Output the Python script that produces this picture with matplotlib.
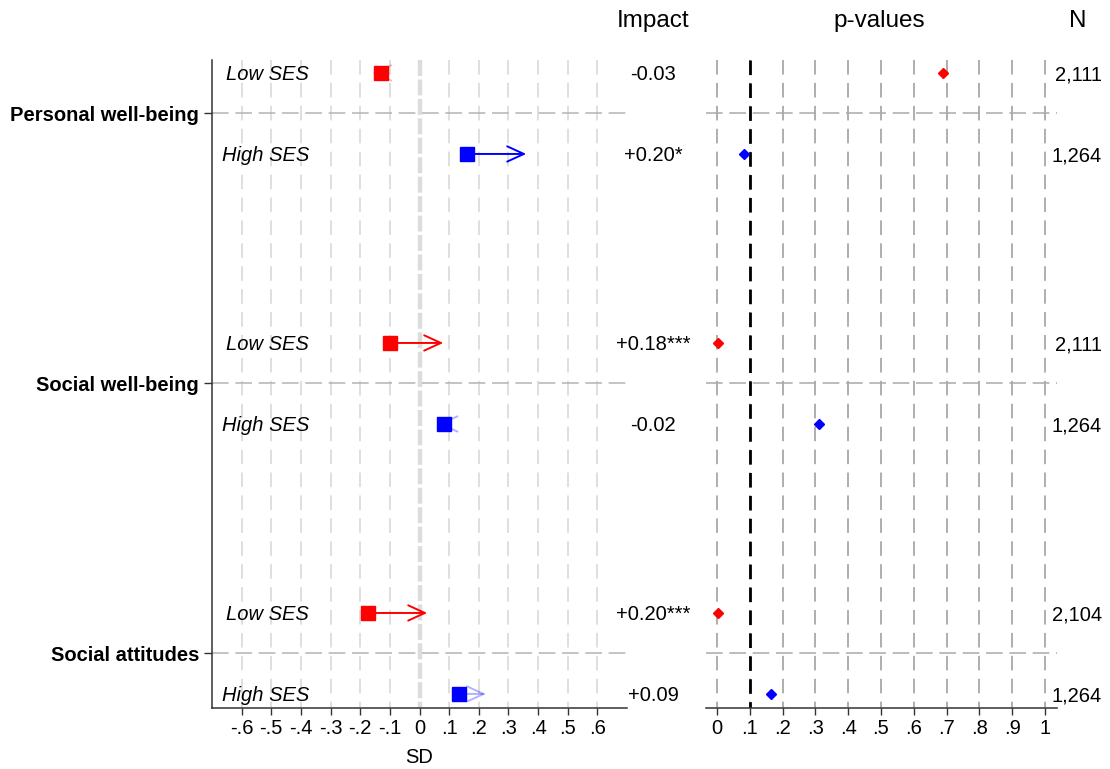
import matplotlib
matplotlib.use("Agg")
import matplotlib.pyplot as plt
import matplotlib.transforms as mtransforms
import numpy as np

plt.rcParams['font.family'] = ['Liberation Sans', 'DejaVu Sans']
plt.rcParams['lines.scale_dashes'] = False

# ---------------- data ----------------
groups = ["Personal well-being", "Social well-being", "Social attitudes"]
ses_labels = ["Low SES", "High SES"]
ses_colors = ["#ff0000", "#0000ff"]
baseline = [-0.13, 0.16, -0.10, 0.084, -0.174, 0.134]
impact = [-0.03, 0.20, 0.18, -0.02, 0.20, 0.09]
impact_labels = ["-0.03", "+0.20*", "+0.18***", "-0.02", "+0.20***", "+0.09"]
pvalues = [0.69, 0.082, 0.003, 0.31, 0.002, 0.165]
nobs = ["2,111", "1,264", "2,111", "1,264", "2,104", "1,264"]
sd_ticks = [-0.6, -0.5, -0.4, -0.3, -0.2, -0.1, 0, 0.1, 0.2, 0.3, 0.4, 0.5, 0.6]
sd_ticklabels = ["-.6", "-.5", "-.4", "-.3", "-.2", "-.1", "0", ".1", ".2", ".3", ".4", ".5", ".6"]
p_ticks = [0, 0.1, 0.2, 0.3, 0.4, 0.5, 0.6, 0.7, 0.8, 0.9, 1]
p_ticklabels = ["0", ".1", ".2", ".3", ".4", ".5", ".6", ".7", ".8", ".9", "1"]
p_threshold = 0.1

# ---------------- layout ----------------
W, H = 1110, 769
fig = plt.figure(figsize=(W / 100, H / 100), dpi=100)

def fx(px):
    return px / W

def fy(py):
    return 1 - py / H

ax_bottom = fy(708)
ax_h = fy(60) - fy(708)
ax = fig.add_axes([fx(212), ax_bottom, fx(627) - fx(212), ax_h])
axp = fig.add_axes([fx(706), ax_bottom, fx(1057) - fx(706), ax_h])
ax.patch.set_alpha(0)
axp.patch.set_alpha(0)

ylo, yhi = 23.52, -0.48
FS = 14.5
# baseline offset so that text is visually centred on the row (data units)
BOFF = 0.27

rows_y = []
seps = []
for g in range(len(groups)):
    rows_y += [10 * g, 10 * g + 3]
    seps.append(10 * g + 1.5)

on_v = (0, (10.5, 6.0))
on_h = (0, (12.0, 4.8))

# ---------- left panel ----------
ax.set_xlim(-0.7, 0.7)
ax.set_ylim(ylo, yhi)
for t in sd_ticks:
    if t == 0:
        ax.plot([t, t], [yhi, ylo], color="#dcdcdc", lw=3.2, linestyle=(0, (11.5, 2.5)), zorder=1)
    else:
        ax.plot([t, t], [yhi, ylo], color="#d6d6d6", lw=1.1, linestyle=on_v, zorder=1)
for s in seps:
    ax.plot([-0.7, 0.7], [s, s], color="#b4b4b4", lw=1.1, linestyle=on_h, zorder=1)

for i, y in enumerate(rows_y):
    c = ses_colors[i % 2]
    x0 = baseline[i]
    x1 = baseline[i] + impact[i]
    alpha = 1.0 if pvalues[i] < p_threshold else 0.3
    ax.annotate("", xy=(x1, y), xytext=(x0, y),
                arrowprops=dict(arrowstyle="->,head_length=1.2,head_width=0.55",
                                color=c, lw=1.4, alpha=alpha, shrinkA=0, shrinkB=0,
                                mutation_scale=10),
                zorder=3)
    ax.plot([x0], [y], marker="s", markersize=10, color=c, linestyle="none", zorder=4)
    ax.text(-0.372, y + BOFF, ses_labels[i % 2], ha="right", va="baseline",
            fontsize=FS, style="italic", zorder=5)

ax.set_xticks(sd_ticks)
ax.set_xticklabels(sd_ticklabels, fontsize=FS)
ax.set_yticks(seps)
ax.set_yticklabels(groups, fontsize=FS, fontweight="bold")
ax.tick_params(axis="x", direction="out", length=5, width=1, pad=3, color="#333333")
ax.tick_params(axis="y", direction="out", length=5.8, width=1, pad=3.5, color="#333333")
for side in ["top", "right"]:
    ax.spines[side].set_visible(False)
for side in ["left", "bottom"]:
    ax.spines[side].set_linewidth(1.1)
    ax.spines[side].set_color("#333333")

# ---------- right panel ----------
axp.set_xlim(-0.0335, 1.0366)
axp.set_ylim(ylo, yhi)
for t in p_ticks:
    axp.plot([t, t], [yhi, ylo], color="#999999", lw=1.1, linestyle=on_v, zorder=1)
axp.plot([p_threshold, p_threshold], [yhi, ylo], color="black", lw=2.0, linestyle=on_v, zorder=2)
for s in seps:
    axp.plot([-0.0335, 1.0366], [s, s], color="#aaaaaa", lw=1.1, linestyle=on_h, zorder=1)
for i, y in enumerate(rows_y):
    axp.plot([pvalues[i]], [y], marker="D", markersize=5.3, color=ses_colors[i % 2],
             linestyle="none", zorder=4)
axp.set_xticks(p_ticks)
axp.set_xticklabels(p_ticklabels, fontsize=FS)
axp.set_yticks([])
axp.tick_params(axis="x", direction="out", length=5, width=1, pad=3, color="#333333")
for side in ["top", "right", "left"]:
    axp.spines[side].set_visible(False)
axp.spines["bottom"].set_linewidth(1.1)
axp.spines["bottom"].set_color("#333333")

# ---------- text columns ----------
tr = mtransforms.blended_transform_factory(fig.transFigure, ax.transData)
for i, y in enumerate(rows_y):
    fig.text(fx(653), 0, impact_labels[i], transform=tr, ha="center", va="baseline",
             fontsize=FS).set_y(y + BOFF)
    fig.text(fx(1102), 0, nobs[i], transform=tr, ha="right", va="baseline",
             fontsize=FS).set_y(y + BOFF)

HFS = 17.5
fig.text(fx(653), fy(27), "Impact", ha="center", va="baseline", fontsize=HFS)
fig.text(fx(879), fy(27), "p-values", ha="center", va="baseline", fontsize=HFS)
fig.text(fx(1078), fy(27), "N", ha="center", va="baseline", fontsize=HFS)
fig.text(fx(419), fy(763), "SD", ha="center", va="baseline", fontsize=FS)

fig.savefig("out.png", dpi=100, facecolor="white")
